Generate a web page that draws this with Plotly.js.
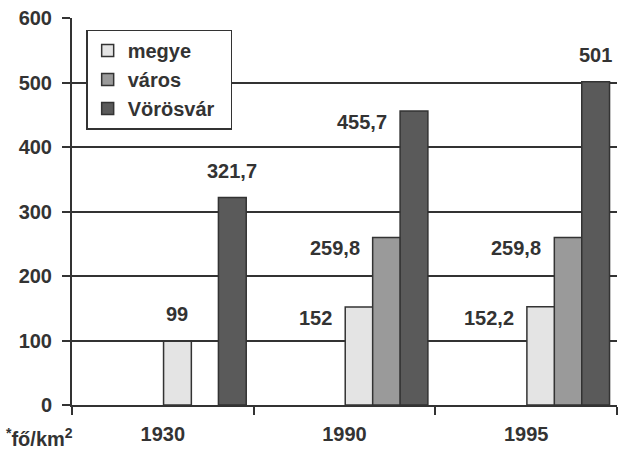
<!DOCTYPE html>
<html>
<head>
<meta charset="utf-8">
<script src="https://cdn.plot.ly/plotly-3.0.1.min.js"></script>
<style>html,body{margin:0;padding:0;background:#fff}#chart{width:620px;height:450px}</style>
</head>
<body>
<div id="chart"></div>
<script>
// ---- data ----
var years = ['1930', '1990', '1995'];
var megye = [99, 152, 152.2];
var varos = [null, 259.8, 259.8];
var vorosvar = [321.7, 455.7, 501];
var seriesNames = ['megye', 'város', 'Vörösvár'];
var yTicks = [0, 100, 200, 300, 400, 500, 600];

// ---- label placement (style, not data) ----
var placement = [
  ['above', 'left', 'left'],
  [null, 'left', 'left'],
  ['above', 'left', 'above']
];

var BAR_W = 0.153;
var offsets = [0.004, 0.155, 0.306];
var fills = ['#e4e4e4', '#9a9a9a', '#5a5a5a'];
var ink = '#333333';
var FONT = 'Arial, "Liberation Sans", sans-serif';
var FS = 20;

var allSeries = [megye, varos, vorosvar];
var traces = allSeries.map(function (vals, j) {
  return {
    type: 'bar',
    name: seriesNames[j] + '\u00a0\u00a0',
    x: years,
    y: vals,
    width: BAR_W,
    offset: offsets[j],
    marker: {color: fills[j], line: {color: ink, width: 1.5}},
    legendgroup: 'g' + j,
    hoverinfo: 'skip'
  };
});

var annotations = [];
allSeries.forEach(function (vals, j) {
  vals.forEach(function (v, i) {
    if (v === null || v === undefined) return;
    var pos = placement[j][i];
    var txt = String(v).replace('.', ',');
    if (pos === 'above') {
      annotations.push({
        x: i + offsets[j] + BAR_W / 2, y: v, xref: 'x', yref: 'y',
        text: txt, showarrow: false, xanchor: 'center', yanchor: 'bottom', yshift: 14,
        font: {family: FONT, size: FS, color: ink, weight: 700}
      });
    } else {
      annotations.push({
        x: i + offsets[j], y: v, xref: 'x', yref: 'y',
        text: txt, showarrow: false, xanchor: 'right', yanchor: 'middle', xshift: -11, yshift: -11,
        font: {family: FONT, size: FS, color: ink, weight: 700}
      });
    }
  });
});

annotations.push({
  xref: 'paper', yref: 'paper', x: -0.125, y: -0.083, xanchor: 'left', yanchor: 'middle',
  text: '<sup>*</sup>fő/km<sup>2</sup>', showarrow: false,
  font: {family: FONT, size: FS, color: ink, weight: 700}
});

var layout = {
  width: 620, height: 450,
  margin: {l: 72, r: 3, t: 18, b: 45},
  paper_bgcolor: '#fff', plot_bgcolor: '#fff',
  font: {family: FONT, size: FS, color: ink, weight: 700},
  showlegend: true,
  legend: {
    x: 0.026, y: 0.97, xanchor: 'left', yanchor: 'top',
    bgcolor: '#fff', bordercolor: ink, borderwidth: 1.5,
    font: {family: FONT, size: FS, color: ink, weight: 700},
    tracegroupgap: 12, traceorder: 'normal'
  },
  xaxis: {
    type: 'category', range: [-0.5, 2.5],
    showgrid: false, zeroline: false,
    showline: true, linecolor: ink, linewidth: 2,
    ticks: 'outside', tickson: 'boundaries', ticklen: 8, tickwidth: 2, tickcolor: ink,
    ticklabelstandoff: 10,
    tickfont: {family: FONT, size: FS, color: ink, weight: 700}
  },
  yaxis: {
    range: [0, 600], tickvals: yTicks,
    showgrid: true, gridcolor: ink, gridwidth: 2,
    zeroline: false,
    showline: true, linecolor: ink, linewidth: 2,
    ticks: 'outside', ticklen: 8, tickwidth: 2, tickcolor: ink,
    ticklabelstandoff: 6,
    tickfont: {family: FONT, size: FS, color: ink, weight: 700}
  },
  bargap: 0, barmode: 'overlay',
  annotations: annotations
};

Plotly.newPlot('chart', traces, layout, {displayModeBar: false, staticPlot: true});
</script>
</body>
</html>
